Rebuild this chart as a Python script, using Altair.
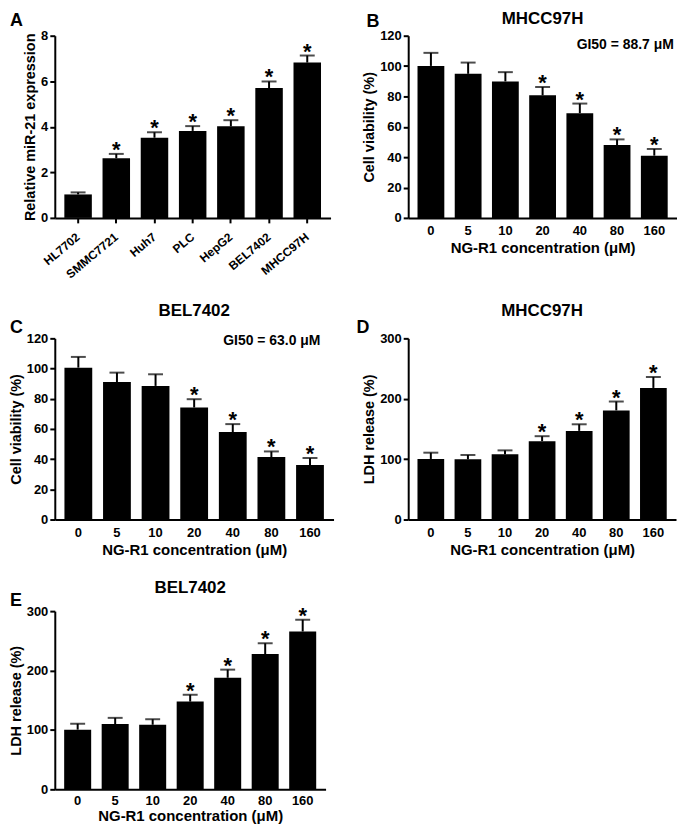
import altair as alt
import pandas as pd

FONT = "Liberation Sans"

# ---------------- data ----------------
a_cats = ["HL7702", "SMMC7721", "Huh7", "PLC", "HepG2", "BEL7402", "MHCC97H"]
a_vals = [1.03, 2.62, 3.52, 3.82, 4.02, 5.70, 6.82]
a_errs = [0.09, 0.19, 0.24, 0.21, 0.27, 0.29, 0.31]
a_sig = [False, True, True, True, True, True, True]

conc = ["0", "5", "10", "20", "40", "80", "160"]
conc_sig = [False, False, False, True, True, True, True]

b_vals = [100.1, 94.9, 89.9, 80.7, 69.0, 48.0, 41.0]
b_errs = [8.6, 7.4, 6.1, 5.5, 6.3, 3.7, 4.4]

c_vals = [100.6, 91.1, 88.5, 74.2, 57.9, 41.4, 36.1]
c_errs = [7.1, 6.2, 7.7, 5.5, 5.3, 3.7, 4.6]

d_vals = [100.3, 99.7, 107.9, 129.8, 146.8, 180.7, 217.9]
d_errs = [10.4, 7.2, 6.6, 8.2, 10.9, 14.7, 18.1]

e_vals = [100.5, 109.8, 108.7, 147.7, 187.8, 227.8, 265.7]
e_errs = [9.9, 10.5, 9.3, 11.5, 13.7, 18.1, 19.8]

XTITLE = "NG-R1 concentration (\u03bcM)"


def panel(cats, vals, errs, sig, ymax, yvals, ytitle, title, ty,
          letter, lx, ly, width, height, gi50=None, gx=0, gy=0, rotate=False,
          lab_pad=7, tit_pad=3):
    df = pd.DataFrame({
        "cat": cats,
        "val": vals,
        "top": [v + e for v, e in zip(vals, errs)],
        "sig": sig,
    })
    if rotate:
        xaxis = alt.Axis(title=None, labelAngle=-40, labelAlign="right",
                         labelBaseline="middle", ticks=True, tickSize=5,
                         labelPadding=12, labelFontSize=12)
    else:
        xaxis = alt.Axis(title=XTITLE, labelAngle=0, ticks=False, tickSize=0,
                         labelPadding=lab_pad, titlePadding=tit_pad,
                         labelFontSize=13, titleFontSize=15)
    xscale = alt.Scale(paddingInner=0.28, paddingOuter=0.25)
    x = alt.X("cat:N", sort=cats, axis=xaxis, scale=xscale)
    yscale = alt.Scale(domain=[0, ymax], nice=False)
    yaxis = alt.Axis(values=yvals, title=ytitle, tickSize=5,
                     labelPadding=2, titlePadding=3, labelFontSize=13,
                     titleFontSize=14.5, labelOverlap=False)
    y_val = alt.Y("val:Q", scale=yscale, axis=yaxis)
    y_top = alt.Y("top:Q", scale=yscale, axis=yaxis)
    base = alt.Chart(df)
    bars = base.mark_bar(color="black").encode(x=x, y=y_val)
    err = base.mark_rule(color="black", strokeWidth=2).encode(
        x=x, y=y_val, y2="top:Q")
    cap = base.mark_tick(color="black", thickness=2, size=15,
                         orient="horizontal").encode(x=x, y=y_top)
    star = base.transform_filter("datum.sig").mark_text(
        text="*", fontSize=22, fontWeight="bold", font=FONT, dy=3,
        baseline="alphabetic", color="black").encode(x=x, y=y_top)
    let = alt.Chart(pd.DataFrame({"t": [letter]})).mark_text(
        fontSize=18, fontWeight="bold", font=FONT, align="left",
        baseline="top", color="black").encode(
        text="t:N", x=alt.value(lx), y=alt.value(ly))
    layers = [bars, err, cap, star, let]
    if title:
        t = alt.Chart(pd.DataFrame({"t": [title]})).mark_text(
            fontSize=17, fontWeight="bold", font=FONT, align="center",
            baseline="top", color="black").encode(
            text="t:N", x=alt.value(width / 2), y=alt.value(ty))
        layers.append(t)
    if gi50:
        g = alt.Chart(pd.DataFrame({"t": [gi50]})).mark_text(
            fontSize=14, fontWeight="bold", font=FONT, align="center",
            baseline="middle", color="black").encode(
            text="t:N", x=alt.value(gx), y=alt.value(gy))
        layers.append(g)
    return alt.layer(*layers).properties(width=width, height=height)


pA = panel(a_cats, a_vals, a_errs, a_sig, 8, [0, 2, 4, 6, 8],
           "Relative miR-21 expression", None, 0, "A", -45, -24, 277, 183,
           rotate=True)
pB = panel(conc, b_vals, b_errs, conc_sig, 120, [0, 20, 40, 60, 80, 100, 120],
           "Cell viability (%)", "MHCC97H", -25, "B", -42, -23, 270, 183,
           gi50="GI50 = 88.7 \u03bcM", gx=218, gy=9)
pC = panel(conc, c_vals, c_errs, conc_sig, 120, [0, 20, 40, 60, 80, 100, 120],
           "Cell viability (%)", "BEL7402", -35, "C", -45, -19, 280, 182,
           gi50="GI50 = 63.0 \u03bcM", gx=218, gy=3)
pD = panel(conc, d_vals, d_errs, conc_sig, 300, [0, 100, 200, 300],
           "LDH release (%)", "MHCC97H", -35, "D", -52, -19, 269, 182)
pE = panel(conc, e_vals, e_errs, conc_sig, 300, [0, 100, 200, 300],
           "LDH release (%)", "BEL7402", -31, "E", -45, -19, 272, 179,
           lab_pad=5, tit_pad=1)

row1 = alt.hconcat(pA, pB, spacing=31)
row2 = alt.hconcat(pC, pD, spacing=23)
lower = alt.vconcat(row2, pE, spacing=22)

chart = alt.vconcat(row1, lower, spacing=22).properties(
    padding=0
).configure(font=FONT).configure_axis(
    labelFont=FONT, titleFont=FONT, labelFontWeight="bold",
    titleFontWeight="bold", labelColor="black", titleColor="black",
    domainColor="black", tickColor="black", domainWidth=2, tickWidth=2,
    grid=False, labelOverlap=False
).configure_view(stroke=None)

chart.save("out.html", embed_options={"renderer": "svg", "actions": False})
